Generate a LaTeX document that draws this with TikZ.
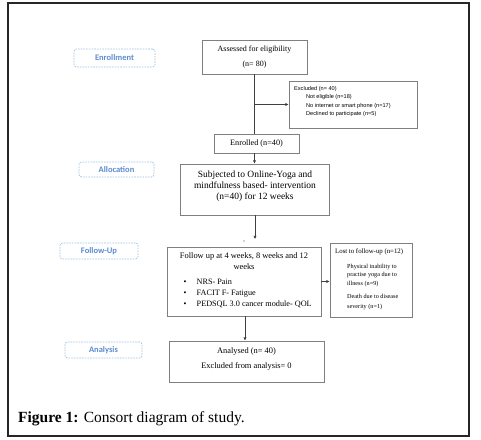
\documentclass[tikz,border=0pt]{standalone}
\usepackage{fontspec}
\setmainfont{Liberation Serif}
\newfontfamily\lsans{Liberation Sans}
\newfontfamily\carl{Carlito}
\usetikzlibrary{arrows.meta}
\definecolor{boxgray}{HTML}{7F7F7F}
\definecolor{framec}{HTML}{262626}
\definecolor{lblue}{HTML}{9DC3E6}
\definecolor{ltext}{HTML}{5B8BD0}
\definecolor{conc}{HTML}{404040}
\tikzset{
  box/.style={draw=boxgray, line width=0.9pt, inner sep=0pt},
  lbox/.style={draw=lblue, dash pattern=on 1.6pt off 1.1pt, rounded corners=2.5pt, line width=0.7pt,
    text=ltext, inner sep=0pt, font=\carl\bfseries\fontsize{8.5}{10}\selectfont},
  txt/.style={inner sep=0pt, align=center},
  conn/.style={draw=conc, line width=0.8pt},
  arr/.style={conn, -{Triangle[length=3.2pt,width=2.8pt]}}
}
\begin{document}
\begin{tikzpicture}[x=1pt,y=-1pt]
\useasboundingbox (0,0) rectangle (481,439);
\draw[framec, line width=1.2pt] (8,3) rectangle (469,436);

% phase labels
\node[lbox, minimum width=81pt, minimum height=18pt] (enrL) at (114.5,58) {Enrollment};
\node[lbox, minimum width=75pt, minimum height=15pt] (allL) at (116.5,169.5) {Allocation};
\node[lbox, minimum width=78pt, minimum height=16pt] (folL) at (99,251) {Follow-Up};
\node[lbox, minimum width=77pt, minimum height=16pt] (anaL) at (103.5,350) {Analysis};

% boxes
\node[box, minimum width=105pt, minimum height=34pt] (assess) at (254.5,57) {};
\node[box, minimum width=128pt, minimum height=47pt] (excl) at (353,104.5) {};
\node[box, minimum width=85pt, minimum height=19pt] (enrol) at (256.5,143.5) {};
\node[box, minimum width=149pt, minimum height=51pt] (subj) at (255,189.5) {};
\node[box, minimum width=154pt, minimum height=69pt] (follow) at (244,281.5) {};
\node[box, minimum width=82pt, minimum height=74pt] (lost) at (371,280) {};
\node[box, minimum width=155pt, minimum height=41pt] (anal) at (246.5,361.5) {};

% texts
\node[txt, font=\fontsize{8}{15}\selectfont] (assessT) at (254.5,57.5) {Assessed for eligibility\\(n= 80)};
\node[txt, anchor=west, align=left, font=\lsans\fontsize{5.6}{8.3}\selectfont] (exclT) at (294,101.5)
  {Excluded (n= 40)\\\hspace*{12pt}Not eligible (n=18)\\\hspace*{12pt}No internet or smart phone (n=17)\\\hspace*{12pt}Declined to participate (n=5)};
\node[txt, font=\fontsize{8.2}{10}\selectfont] (enrolT) at (256.5,143.5) {Enrolled (n=40)};
\node[txt, font=\fontsize{9.5}{11.2}\selectfont] (subjT) at (255,186)
  {Subjected to Online-Yoga and\\mindfulness based- intervention\\(n=40) for 12 weeks};
\node[txt, font=\fontsize{8.4}{10.5}\selectfont] (folT) at (244,261)
  {Follow up at 4 weeks, 8 weeks and 12\\weeks};
\node[txt, anchor=west, align=left, font=\fontsize{8.2}{11}\selectfont] (folB) at (183.5,293)
  {\makebox[13pt][l]{\textbullet}NRS- Pain\\\makebox[13pt][l]{\textbullet}FACIT F- Fatigue\\\makebox[13pt][l]{\textbullet}PEDSQL 3.0 cancer module- QOL};
\node[txt, anchor=west, font=\fontsize{6.8}{8}\selectfont] (lostT) at (335,252) {Lost to follow-up (n=12)};
\node[txt, anchor=west, align=left, font=\fontsize{6.2}{8.5}\selectfont] (lostA) at (347,275.3)
  {Physical inability to\\practise yoga due to\\illness (n=9)};
\node[txt, anchor=west, align=left, font=\fontsize{6.2}{10}\selectfont] (lostB) at (347,301.8)
  {Death due to disease\\severity (n=1)};
\node[txt, font=\fontsize{8.4}{15}\selectfont] (analT) at (246.5,358.5)
  {Analysed (n= 40)\\Excluded from analysis= 0};

% connectors
\coordinate (fup) at (255,239);
\draw[conn] (assess.south) -- (assess.south |- enrol.north);
\draw[arr] (assess.south |- excl.west) -- (excl.west);
\draw[arr] (enrol.south -| assess.south) -- (subj.north -| assess.south);
\draw[arr] (subj.south) -- (fup);
\fill[conc] (244,241) circle (0.6pt);
\draw[arr] (follow.east) -- (follow.east -| lost.west);
\draw[arr] ([xshift=1pt]follow.south) -- ([xshift=1pt]follow.south |- anal.north);

% caption
\node[anchor=base west, inner sep=0pt, font=\fontsize{15.5}{18}\selectfont] (cap) at (18,422.5)
  {\textbf{Figure 1:} Consort diagram of study.};
\end{tikzpicture}
\end{document}
